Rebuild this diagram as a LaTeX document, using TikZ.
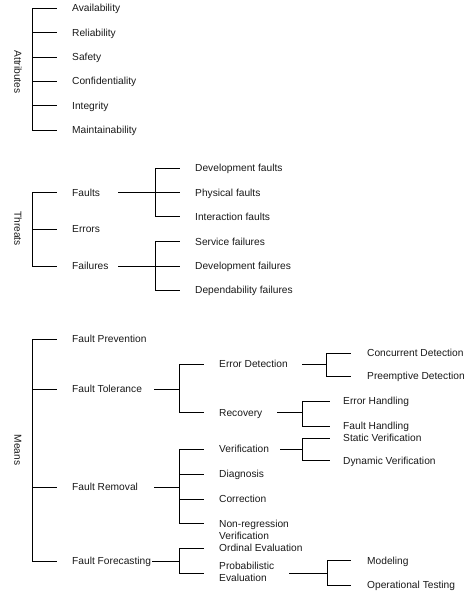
\documentclass[tikz,border=0pt]{standalone}
\usepackage{fontspec}
\setmainfont{Liberation Sans}
\tikzset{
    EMPTY/.style={shape=coordinate},
    WORD/.style={anchor=west, inner sep=0mm, text height=7.3pt, text depth=0pt,
        font={\fontsize{10.2}{12.2}\selectfont}, text=black!90},
    TWO_LINE_WORD/.style={anchor=north west, inner sep=0mm, align=left,
        font={\fontsize{10.2}{12.2}\selectfont}, text=black!90},
    GROUP/.style={WORD, anchor=center, rotate=-90},
    EDGE/.style={draw=black, line width=0.8pt}
}
\pgfdeclarelayer{edgelayer}
\pgfdeclarelayer{nodelayer}
\pgfsetlayers{edgelayer,nodelayer,main}
\begin{document}
\begin{tikzpicture}[x=1pt, y=-1pt]
    \useasboundingbox (0,0) rectangle (467,595);
    \begin{pgfonlayer}{nodelayer}
        % attributes
        \node [GROUP] (1) at (18, 72) {Attributes};
        \node [EMPTY] (2) at (32, 8.3) {};
        \node [EMPTY] (3) at (32, 32.6) {};
        \node [EMPTY] (4) at (32, 57) {};
        \node [EMPTY] (5) at (32, 81.3) {};
        \node [EMPTY] (6) at (32, 105.6) {};
        \node [EMPTY] (7) at (32, 130) {};
        \node [EMPTY] (8) at (57, 8.3) {};
        \node [EMPTY] (9) at (57, 32.6) {};
        \node [EMPTY] (10) at (57, 57) {};
        \node [EMPTY] (11) at (57, 81.3) {};
        \node [EMPTY] (12) at (57, 105.6) {};
        \node [EMPTY] (13) at (57, 130) {};
        \node [WORD] (14) at (72, 8.3) {Availability};
        \node [WORD] (15) at (72, 32.6) {Reliability};
        \node [WORD] (16) at (72, 57) {Safety};
        \node [WORD] (17) at (72, 81.3) {Confidentiality};
        \node [WORD] (18) at (72, 105.6) {Integrity};
        \node [WORD] (19) at (72, 130) {Maintainability};
        % threats
        \node [GROUP] (20) at (18, 228.5) {Threats};
        \node [EMPTY] (21) at (32, 192.5) {};
        \node [EMPTY] (22) at (32, 229.3) {};
        \node [EMPTY] (23) at (32, 266) {};
        \node [EMPTY] (24) at (57, 192.5) {};
        \node [EMPTY] (25) at (57, 229.3) {};
        \node [EMPTY] (26) at (57, 266) {};
        \node [WORD] (27) at (72, 192.5) {Faults};
        \node [WORD] (28) at (72, 229.3) {Errors};
        \node [WORD] (29) at (72, 266) {Failures};
        \node [EMPTY] (30) at (118, 192.5) {};
        \node [EMPTY] (32) at (155, 168.3) {};
        \node [EMPTY] (33) at (155, 216.7) {};
        \node [EMPTY] (34) at (180, 168.3) {};
        \node [EMPTY] (35) at (180, 192.5) {};
        \node [EMPTY] (36) at (180, 216.7) {};
        \node [WORD] (37) at (195, 168.3) {Development faults};
        \node [WORD] (38) at (195, 192.5) {Physical faults};
        \node [WORD] (39) at (195, 216.7) {Interaction faults};
        \node [EMPTY] (40) at (118, 266) {};
        \node [EMPTY] (41) at (155, 241.7) {};
        \node [EMPTY] (43) at (155, 290) {};
        \node [EMPTY] (44) at (180, 241.7) {};
        \node [EMPTY] (45) at (180, 266) {};
        \node [EMPTY] (46) at (180, 290) {};
        \node [WORD] (47) at (195, 241.7) {Service failures};
        \node [WORD] (48) at (195, 266) {Development failures};
        \node [WORD] (49) at (195, 290) {Dependability failures};
        % means
        \node [GROUP] (50) at (18, 450) {Means};
        \node [EMPTY] (51) at (32, 339.3) {};
        \node [EMPTY] (52) at (32, 389) {};
        \node [EMPTY] (53) at (32, 487) {};
        \node [EMPTY] (54) at (32, 561) {};
        \node [EMPTY] (55) at (57, 339.3) {};
        \node [EMPTY] (56) at (57, 389) {};
        \node [EMPTY] (57) at (57, 487) {};
        \node [EMPTY] (58) at (57, 561) {};
        \node [WORD] (59) at (72, 339.3) {Fault Prevention};
        \node [WORD] (60) at (72, 389) {Fault Tolerance};
        \node [WORD] (61) at (72, 487) {Fault Removal};
        \node [WORD] (62) at (72, 561) {Fault Forecasting};
        \node [EMPTY] (63) at (154, 389) {};
        \node [EMPTY] (64) at (179, 389) {};
        \node [EMPTY] (65) at (179, 364) {};
        \node [EMPTY] (66) at (179, 412.7) {};
        \node [EMPTY] (67) at (204, 364) {};
        \node [EMPTY] (68) at (204, 412.7) {};
        \node [WORD] (69) at (219, 364) {Error Detection};
        \node [WORD] (70) at (219, 412.7) {Recovery};
        \node [EMPTY] (71) at (302, 364.5) {};
        \node [EMPTY] (72) at (326, 364.5) {};
        \node [EMPTY] (73) at (326, 353.3) {};
        \node [EMPTY] (74) at (326, 376) {};
        \node [EMPTY] (75) at (351, 353.3) {};
        \node [EMPTY] (76) at (351, 376) {};
        \node [WORD] (77) at (367, 353.3) {Concurrent Detection};
        \node [WORD] (78) at (367, 376) {Preemptive Detection};
        \node [EMPTY] (79) at (277, 412.7) {};
        \node [EMPTY] (80) at (302, 412.7) {};
        \node [EMPTY] (81) at (302, 401) {};
        \node [EMPTY] (82) at (302, 426) {};
        \node [EMPTY] (83) at (330, 401) {};
        \node [EMPTY] (84) at (330, 426) {};
        \node [WORD] (85) at (343, 401) {Error Handling};
        \node [WORD] (86) at (343, 426) {Fault Handling};
        \node [EMPTY] (87) at (154, 487) {};
        \node [EMPTY] (88) at (179, 487) {};
        \node [EMPTY] (89) at (179, 449) {};
        \node [EMPTY] (90) at (179, 474.3) {};
        \node [EMPTY] (91) at (179, 499.3) {};
        \node [EMPTY] (92) at (179, 523.3) {};
        \node [EMPTY] (93) at (204, 449) {};
        \node [EMPTY] (94) at (204, 474.3) {};
        \node [EMPTY] (95) at (204, 499.3) {};
        \node [EMPTY] (96) at (204, 523.3) {};
        \node [WORD] (97) at (219, 449) {Verification};
        \node [WORD] (98) at (219, 474.3) {Diagnosis};
        \node [WORD] (99) at (219, 499.3) {Correction};
        \node [TWO_LINE_WORD] (100) at (219, 519.6) {Non-regression\\Verification};
        \node [EMPTY] (101) at (280, 449) {};
        \node [EMPTY] (102) at (302, 449) {};
        \node [EMPTY] (103) at (302, 438) {};
        \node [EMPTY] (104) at (302, 460.5) {};
        \node [EMPTY] (105) at (330, 438) {};
        \node [EMPTY] (106) at (330, 460.5) {};
        \node [WORD] (107) at (343, 437.7) {Static Verification};
        \node [WORD] (108) at (343, 460.7) {Dynamic Verification};
        \node [EMPTY] (109) at (152, 561) {};
        \node [EMPTY] (110) at (179, 561) {};
        \node [EMPTY] (111) at (179, 548.3) {};
        \node [EMPTY] (112) at (179, 573) {};
        \node [EMPTY] (113) at (204, 548.3) {};
        \node [EMPTY] (114) at (204, 573) {};
        \node [WORD] (115) at (219, 548.3) {Ordinal Evaluation};
        \node [TWO_LINE_WORD] (116) at (219, 562.2) {Probabilistic\\Evaluation};
        \node [EMPTY] (117) at (289, 573) {};
        \node [EMPTY] (118) at (327, 573) {};
        \node [EMPTY] (119) at (327, 560.7) {};
        \node [EMPTY] (120) at (327, 585) {};
        \node [EMPTY] (121) at (351, 560.7) {};
        \node [EMPTY] (122) at (351, 585) {};
        \node [WORD] (123) at (367, 560.7) {Modeling};
        \node [WORD] (124) at (367, 585) {Operational Testing};
    \end{pgfonlayer}
    \begin{pgfonlayer}{edgelayer}
        \draw[EDGE] (2) to (7);
        \draw[EDGE] (2) to (8);
        \draw[EDGE] (3) to (9);
        \draw[EDGE] (4) to (10);
        \draw[EDGE] (5) to (11);
        \draw[EDGE] (6) to (12);
        \draw[EDGE] (7) to (13);
        \draw[EDGE] (21) to (23);
        \draw[EDGE] (21) to (24);
        \draw[EDGE] (22) to (25);
        \draw[EDGE] (23) to (26);
        \draw[EDGE] (30) to (35);
        \draw[EDGE] (32) to (33);
        \draw[EDGE] (32) to (34);
        \draw[EDGE] (33) to (36);
        \draw[EDGE] (40) to (45);
        \draw[EDGE] (41) to (43);
        \draw[EDGE] (41) to (44);
        \draw[EDGE] (43) to (46);
        \draw[EDGE] (51) to (54);
        \draw[EDGE] (51) to (55);
        \draw[EDGE] (52) to (56);
        \draw[EDGE] (53) to (57);
        \draw[EDGE] (54) to (58);
        \draw[EDGE] (63) to (64);
        \draw[EDGE] (65) to (66);
        \draw[EDGE] (65) to (67);
        \draw[EDGE] (66) to (68);
        \draw[EDGE] (71) to (72);
        \draw[EDGE] (73) to (74);
        \draw[EDGE] (73) to (75);
        \draw[EDGE] (74) to (76);
        \draw[EDGE] (79) to (80);
        \draw[EDGE] (81) to (82);
        \draw[EDGE] (81) to (83);
        \draw[EDGE] (82) to (84);
        \draw[EDGE] (87) to (88);
        \draw[EDGE] (89) to (92);
        \draw[EDGE] (89) to (93);
        \draw[EDGE] (90) to (94);
        \draw[EDGE] (91) to (95);
        \draw[EDGE] (92) to (96);
        \draw[EDGE] (101) to (102);
        \draw[EDGE] (103) to (104);
        \draw[EDGE] (103) to (105);
        \draw[EDGE] (104) to (106);
        \draw[EDGE] (109) to (110);
        \draw[EDGE] (111) to (112);
        \draw[EDGE] (111) to (113);
        \draw[EDGE] (112) to (114);
        \draw[EDGE] (117) to (118);
        \draw[EDGE] (119) to (120);
        \draw[EDGE] (119) to (121);
        \draw[EDGE] (120) to (122);
    \end{pgfonlayer}
\end{tikzpicture}
\end{document}
